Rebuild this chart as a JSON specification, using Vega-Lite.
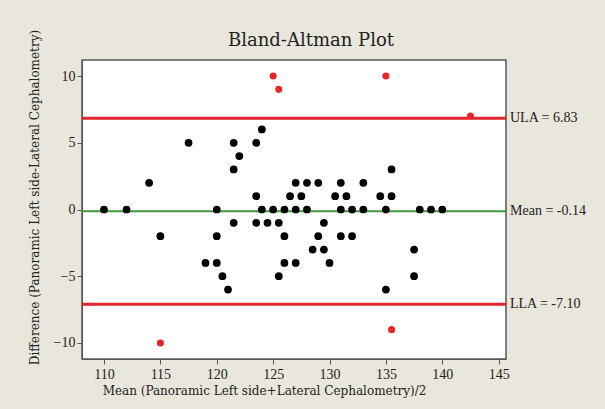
{
  "$schema": "https://vega.github.io/schema/vega-lite/v6.json",
  "width": 424,
  "height": 299,
  "autosize": "none",
  "padding": {"left": 82, "top": 60, "right": 99, "bottom": 50},
  "background": "#e9e6dc",
  "config": {
    "font": "Liberation Serif",
    "view": {"fill": "white", "stroke": "#555555", "strokeWidth": 1.5},
    "axis": {
      "grid": false,
      "labelFont": "Liberation Serif",
      "labelFontSize": 14,
      "labelColor": "#222222",
      "titleFont": "DejaVu Serif",
      "titleFontSize": 12,
      "titleFontWeight": "normal",
      "titleColor": "#222222",
      "tickColor": "#555555",
      "domainColor": "#555555",
      "tickSize": 5,
      "labelPadding": 2
    }
  },
  "title": {
    "text": "Bland-Altman Plot",
    "font": "DejaVu Serif",
    "fontSize": 18,
    "fontWeight": "normal",
    "color": "#222222",
    "anchor": "middle",
    "frame": "group",
    "dx": 17,
    "offset": -21
  },
  "datasets": {
    "points": [
      {"x": 124, "y": 6, "kind": "in"},
      {"x": 117.5, "y": 5, "kind": "in"},
      {"x": 121.5, "y": 5, "kind": "in"},
      {"x": 123.5, "y": 5, "kind": "in"},
      {"x": 122, "y": 4, "kind": "in"},
      {"x": 121.5, "y": 3, "kind": "in"},
      {"x": 135.5, "y": 3, "kind": "in"},
      {"x": 114, "y": 2, "kind": "in"},
      {"x": 127, "y": 2, "kind": "in"},
      {"x": 128, "y": 2, "kind": "in"},
      {"x": 129, "y": 2, "kind": "in"},
      {"x": 131, "y": 2, "kind": "in"},
      {"x": 133, "y": 2, "kind": "in"},
      {"x": 123.5, "y": 1, "kind": "in"},
      {"x": 126.5, "y": 1, "kind": "in"},
      {"x": 127.5, "y": 1, "kind": "in"},
      {"x": 130.5, "y": 1, "kind": "in"},
      {"x": 131.5, "y": 1, "kind": "in"},
      {"x": 134.5, "y": 1, "kind": "in"},
      {"x": 135.5, "y": 1, "kind": "in"},
      {"x": 110, "y": 0, "kind": "in"},
      {"x": 112, "y": 0, "kind": "in"},
      {"x": 120, "y": 0, "kind": "in"},
      {"x": 124, "y": 0, "kind": "in"},
      {"x": 125, "y": 0, "kind": "in"},
      {"x": 126, "y": 0, "kind": "in"},
      {"x": 127, "y": 0, "kind": "in"},
      {"x": 128, "y": 0, "kind": "in"},
      {"x": 131, "y": 0, "kind": "in"},
      {"x": 132, "y": 0, "kind": "in"},
      {"x": 133, "y": 0, "kind": "in"},
      {"x": 135, "y": 0, "kind": "in"},
      {"x": 138, "y": 0, "kind": "in"},
      {"x": 139, "y": 0, "kind": "in"},
      {"x": 140, "y": 0, "kind": "in"},
      {"x": 121.5, "y": -1, "kind": "in"},
      {"x": 123.5, "y": -1, "kind": "in"},
      {"x": 124.5, "y": -1, "kind": "in"},
      {"x": 125.5, "y": -1, "kind": "in"},
      {"x": 129.5, "y": -1, "kind": "in"},
      {"x": 115, "y": -2, "kind": "in"},
      {"x": 120, "y": -2, "kind": "in"},
      {"x": 126, "y": -2, "kind": "in"},
      {"x": 129, "y": -2, "kind": "in"},
      {"x": 131, "y": -2, "kind": "in"},
      {"x": 132, "y": -2, "kind": "in"},
      {"x": 128.5, "y": -3, "kind": "in"},
      {"x": 129.5, "y": -3, "kind": "in"},
      {"x": 137.5, "y": -3, "kind": "in"},
      {"x": 119, "y": -4, "kind": "in"},
      {"x": 120, "y": -4, "kind": "in"},
      {"x": 126, "y": -4, "kind": "in"},
      {"x": 127, "y": -4, "kind": "in"},
      {"x": 130, "y": -4, "kind": "in"},
      {"x": 120.5, "y": -5, "kind": "in"},
      {"x": 125.5, "y": -5, "kind": "in"},
      {"x": 137.5, "y": -5, "kind": "in"},
      {"x": 121, "y": -6, "kind": "in"},
      {"x": 135, "y": -6, "kind": "in"},
      {"x": 115, "y": -10, "kind": "out"},
      {"x": 125, "y": 10, "kind": "out"},
      {"x": 125.5, "y": 9, "kind": "out"},
      {"x": 135, "y": 10, "kind": "out"},
      {"x": 135.5, "y": -9, "kind": "out"},
      {"x": 142.5, "y": 7, "kind": "out"}
    ],
    "limits": [
      {"name": "ULA", "value": 6.83, "label": "ULA = 6.83", "color": "#e0262b", "w": 3},
      {"name": "Mean", "value": -0.14, "label": "Mean = -0.14", "color": "#3c9c3c", "w": 2},
      {"name": "LLA", "value": -7.10, "label": "LLA = -7.10", "color": "#e0262b", "w": 3}
    ]
  },
  "layer": [
    {
      "data": {"name": "limits"},
      "mark": {"type": "rule"},
      "encoding": {
        "y": {"field": "value", "type": "quantitative", "scale": {"domain": [-11.2, 11.2], "nice": false, "zero": false}},
        "color": {"field": "color", "type": "nominal", "scale": null},
        "strokeWidth": {"field": "w", "type": "quantitative", "scale": null}
      }
    },
    {
      "data": {"name": "points"},
      "mark": {"type": "point", "shape": "circle", "filled": true, "opacity": 1},
      "encoding": {
        "x": {
          "field": "x", "type": "quantitative",
          "scale": {"domain": [108.05, 145.65], "nice": false, "zero": false},
          "axis": {"values": [110, 115, 120, 125, 130, 135, 140, 145], "title": "Mean (Panoramic Left side+Lateral Cephalometry)/2", "titlePadding": 4, "labelPadding": 3, "titleX": 182}
        },
        "y": {
          "field": "y", "type": "quantitative",
          "scale": {"domain": [-11.2, 11.2], "nice": false, "zero": false},
          "axis": {"values": [-10, -5, 0, 5, 10], "title": "Difference (Panoramic Left side-Lateral Cephalometry)", "titlePadding": 12, "titleY": 137}
        },
        "color": {"field": "kind", "type": "nominal", "scale": {"domain": ["in", "out"], "range": ["#000000", "#e8262a"]}, "legend": null},
        "size": {"field": "kind", "type": "nominal", "scale": {"domain": ["in", "out"], "range": [60, 50]}, "legend": null}
      }
    },
    {
      "data": {"name": "limits"},
      "mark": {"type": "text", "align": "left", "baseline": "middle", "dx": 4, "fontSize": 14, "font": "Liberation Serif", "color": "#222222"},
      "encoding": {
        "x": {"datum": 145.65, "type": "quantitative"},
        "y": {"field": "value", "type": "quantitative"},
        "text": {"field": "label"}
      }
    }
  ]
}
